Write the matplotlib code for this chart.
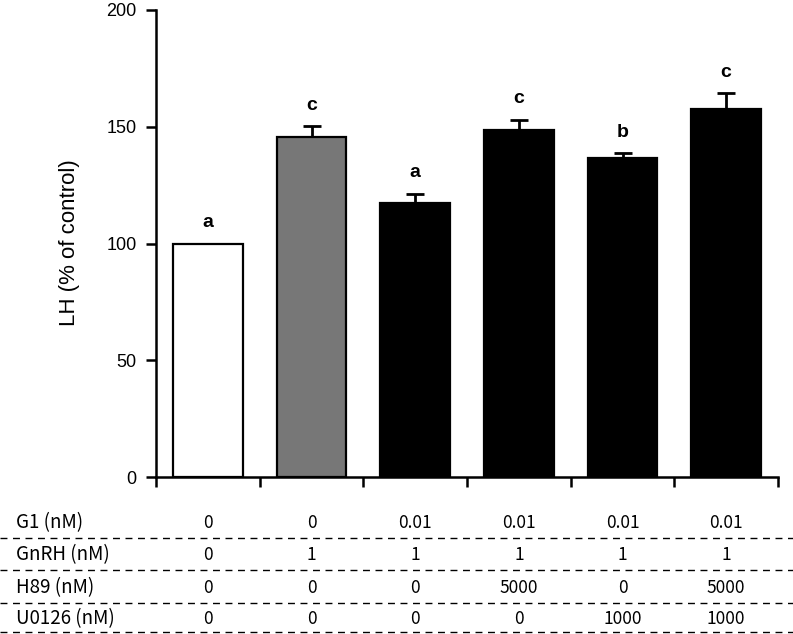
import matplotlib
matplotlib.use("Agg")
import matplotlib.pyplot as plt
from matplotlib.transforms import blended_transform_factory
from matplotlib.lines import Line2D

# ---- data ----
values = [100, 145.5, 117.5, 148.6, 136.5, 157.5]
errors = [0, 4.8, 3.7, 4.3, 2.1, 6.8]
letters = ['a', 'c', 'a', 'c', 'b', 'c']
bar_colors = ['white', '#777777', 'black', 'black', 'black', 'black']
row_labels = ['G1 (nM)', 'GnRH (nM)', 'H89 (nM)', 'U0126 (nM)']
g1 = ['0', '0', '0.01', '0.01', '0.01', '0.01']
gnrh = ['0', '1', '1', '1', '1', '1']
h89 = ['0', '0', '0', '5000', '0', '5000']
u0126 = ['0', '0', '0', '0', '1000', '1000']
yticks = [0, 50, 100, 150, 200]

W, H = 793, 634
fig = plt.figure(figsize=(W / 100, H / 100), dpi=100)
ax = fig.add_axes([156 / W, 1 - 477 / H, (778 - 156) / W, (477 - 10) / H])

lab_font = 'Liberation Sans'
tab_font = ['Noto Sans CJK JP', 'DejaVu Sans']

n = len(values)
xs = [i + 0.5 for i in range(n)]
ax.bar(xs, values, width=0.67, color=bar_colors, edgecolor='black', linewidth=1.6, zorder=3)
ex = [x for x, e in zip(xs, errors) if e > 0]
ey = [v for v, e in zip(values, errors) if e > 0]
ee = [e for e in errors if e > 0]
ax.errorbar(ex, ey, yerr=[[0] * len(ee), ee], fmt='none', ecolor='black',
            elinewidth=2, capsize=6.5, capthick=2, zorder=2)

for x, v, e, l in zip(xs, values, errors, letters):
    ax.text(x, v + e + 9, l, ha='center', va='center', fontsize=14,
            fontweight='bold', family=lab_font)

ax.set_xlim(0, n)
ax.set_ylim(0, 200)
ax.set_xticks(range(n + 1))
ax.set_xticklabels([])
ax.set_yticks(yticks)
ax.set_yticklabels([str(t) for t in yticks], fontsize=13, family=lab_font)
for s in ['top', 'right']:
    ax.spines[s].set_visible(False)
for s in ['left', 'bottom']:
    ax.spines[s].set_linewidth(1.8)
ax.tick_params(axis='both', direction='out', length=7, width=1.8, pad=7)
fig.text(69 / W, 1 - 243 / H, 'LH (% of control)', rotation=90, ha='center', va='center',
         fontsize=16, family=lab_font)

# ---- table below ----
trans = blended_transform_factory(ax.transData, fig.transFigure)
rows = [g1, gnrh, h89, u0126]
row_y = [523, 555, 588, 619]
line_y = [538, 570, 603, 632]
for lab, vals, y in zip(row_labels, rows, row_y):
    fig.text(16 / W, 1 - y / H, lab, ha='left', va='center', fontsize=13.5, family=tab_font)
    for x, v in zip(xs, vals):
        fig.text(x, 1 - y / H, v, transform=trans, ha='center', va='center',
                 fontsize=12.5, family=tab_font)
for y in line_y:
    fig.add_artist(Line2D([0, 1], [1 - y / H, 1 - y / H], transform=fig.transFigure,
                          color='black', linewidth=1.0, linestyle=(0, (5, 4))))

fig.savefig('out.png', dpi=100)
